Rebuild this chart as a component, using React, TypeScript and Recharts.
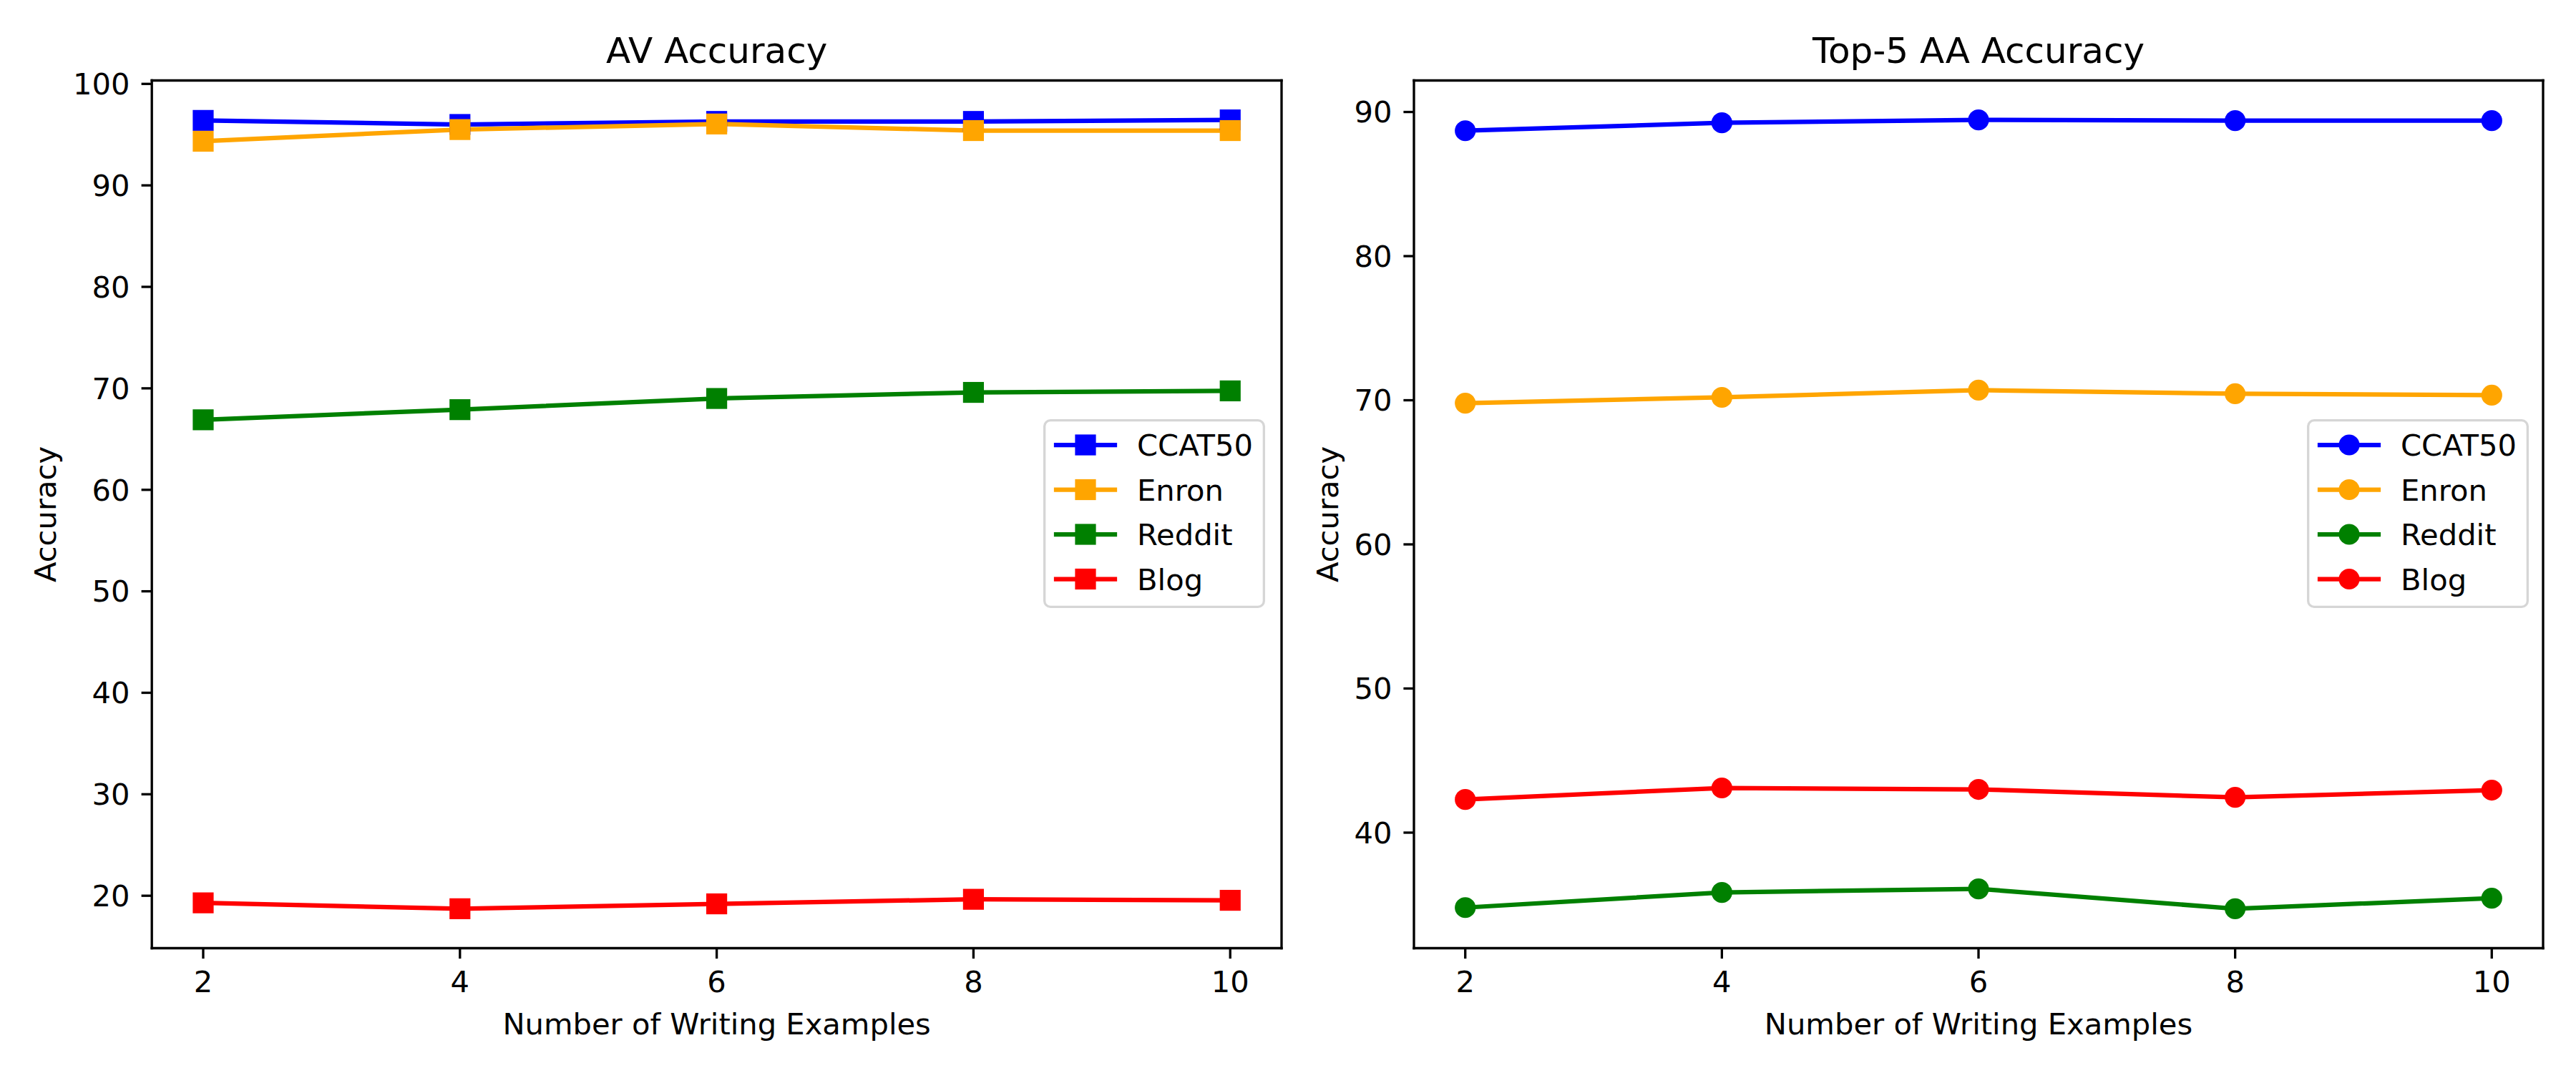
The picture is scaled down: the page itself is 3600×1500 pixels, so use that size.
import React from 'react';
import { LineChart, Line, XAxis, YAxis, Legend, Label } from 'recharts';

const xValues = [2, 4, 6, 8, 10];
const seriesNames = ['CCAT50', 'Enron', 'Reddit', 'Blog'];
const seriesColors = ['#0000ff', '#ffa500', '#008000', '#ff0000'];

const avCcat50 = [96.4, 96.0, 96.3, 96.3, 96.45];
const avEnron = [94.35, 95.5, 96.05, 95.4, 95.4];
const avReddit = [66.9, 67.9, 69.0, 69.6, 69.75];
const avBlog = [19.3, 18.72, 19.2, 19.65, 19.55];

const aaCcat50 = [88.7, 89.25, 89.45, 89.4, 89.4];
const aaEnron = [69.8, 70.2, 70.7, 70.45, 70.35];
const aaReddit = [34.8, 35.85, 36.1, 34.72, 35.45];
const aaBlog = [42.3, 43.1, 43.0, 42.45, 42.95];

const xTicks = [2, 4, 6, 8, 10];
const avYTicks = [20, 30, 40, 50, 60, 70, 80, 90, 100];
const aaYTicks = [40, 50, 60, 70, 80, 90];

const FONT = "'DejaVu Sans', sans-serif";
const FS = 41.67;
const LW = 3.33;
const LINE_W = 6.25;
const MK = 14.6;

function buildRows(series: number[][]) {
  return xValues.map((x, i) => {
    const row: Record<string, number> = { x };
    seriesNames.forEach((n, s) => {
      row[n] = series[s][i];
    });
    return row;
  });
}

function mplDomain(series: number[][]): [number, number] {
  const all = series.flat();
  const lo = Math.min(...all);
  const hi = Math.max(...all);
  const pad = (hi - lo) * 0.05;
  return [lo - pad, hi + pad];
}

const xDomain: [number, number] = [xValues[0] - 0.05 * (xValues[4] - xValues[0]), xValues[4] + 0.05 * (xValues[4] - xValues[0])];

function drawMarker(kind: string, color: string, cx: number, cy: number, key?: string | number) {
  if (kind === 'square') {
    return <rect key={key} x={cx - MK} y={cy - MK} width={MK * 2} height={MK * 2} fill={color} />;
  }
  return <circle key={key} cx={cx} cy={cy} r={MK} fill={color} />;
}

function makeDot(kind: string, color: string) {
  return (props: any) => {
    const { cx, cy, index } = props;
    if (cx == null || cy == null) return <g key={`e${index}`} />;
    return drawMarker(kind, color, cx, cy, `d${index}`);
  };
}

function LegendBox({ marker }: { marker: string }) {
  return (
    <svg width={310} height={264} style={{ display: 'block', overflow: 'visible' }}>
      <rect x={1.67} y={1.67} width={306.7} height={260.7} rx={8.3} ry={8.3} fill="rgba(255,255,255,0.8)" stroke="#d6d6d6" strokeWidth={LW} />
      {seriesNames.map((n, i) => {
        const cy = 36 + i * 62.5;
        const c = seriesColors[i];
        return (
          <g key={n}>
            <line x1={18} x2={100} y1={cy} y2={cy} stroke={c} strokeWidth={LINE_W} strokeLinecap="square" />
            {drawMarker(marker, c, 59, cy)}
            <text x={131} y={cy + 15.2} fontSize={FS} fontFamily={FONT} fill="#000">{n}</text>
          </g>
        );
      })}
    </svg>
  );
}

type PanelProps = {
  title: string;
  series: number[][];
  yTicks: number[];
  marker: string;
  leftWidth: number;
  rightWidth: number;
  legendLeft: number;
  ylabelOffset: number;
};

function Panel(p: PanelProps) {
  const data = buildRows(p.series);
  const yDomain = mplDomain(p.series);
  const axisStroke = { stroke: '#000', strokeWidth: LW, strokeLinecap: 'square' as const };
  return (
    <LineChart width={1800} height={1500} data={data} margin={{ top: 0, right: 0, bottom: 0, left: 0 }} style={{ fontFamily: FONT }}>
      <XAxis
        xAxisId="top"
        orientation="top"
        dataKey="x"
        type="number"
        domain={xDomain}
        allowDataOverflow
        height={112.5}
        tick={false}
        tickLine={false}
        axisLine={axisStroke}
      >
        <Label value={p.title} position="insideBottom" offset={25} style={{ fontSize: 50, fontFamily: FONT, fill: '#000' }} />
      </XAxis>
      <XAxis
        dataKey="x"
        type="number"
        domain={xDomain}
        allowDataOverflow
        ticks={xTicks}
        interval={0}
        height={174.5}
        tickSize={14.6}
        tickMargin={17}
        tickLine={{ stroke: '#000', strokeWidth: LW }}
        axisLine={axisStroke}
        tick={{ fill: '#000', fontSize: FS, fontFamily: FONT }}
      >
        <Label value="Number of Writing Examples" position="insideBottom" offset={54} style={{ fontSize: FS, fontFamily: FONT, fill: '#000' }} />
      </XAxis>
      <YAxis
        type="number"
        domain={yDomain}
        allowDataOverflow
        ticks={p.yTicks}
        interval={0}
        width={p.leftWidth}
        tickSize={14.6}
        tickMargin={16}
        tickLine={{ stroke: '#000', strokeWidth: LW }}
        axisLine={axisStroke}
        tick={{ fill: '#000', fontSize: FS, fontFamily: FONT }}
      >
        <Label value="Accuracy" angle={-90} position="insideLeft" offset={p.ylabelOffset} style={{ fontSize: FS, fontFamily: FONT, fill: '#000', textAnchor: 'middle' }} />
      </YAxis>
      <YAxis
        yAxisId="right"
        orientation="right"
        type="number"
        domain={yDomain}
        allowDataOverflow
        width={p.rightWidth}
        tick={false}
        tickLine={false}
        axisLine={axisStroke}
      />
      {seriesNames.map((n, i) => (
        <Line
          key={n}
          dataKey={n}
          name={n}
          type="linear"
          stroke={seriesColors[i]}
          strokeWidth={LINE_W}
          dot={makeDot(p.marker, seriesColors[i])}
          activeDot={false}
          isAnimationActive={false}
        />
      ))}
      <Legend
        layout="vertical"
        align="center"
        verticalAlign="middle"
        wrapperStyle={{ left: p.legendLeft, top: 586, width: 310, height: 264 }}
        content={() => <LegendBox marker={p.marker} />}
      />
    </LineChart>
  );
}

export default function App() {
  return (
    <div style={{ position: 'absolute', left: 0, top: 0, width: 3600, height: 1500, background: '#fff', display: 'flex', fontFamily: FONT }}>
      <Panel
        title="AV Accuracy"
        series={[avCcat50, avEnron, avReddit, avBlog]}
        yTicks={avYTicks}
        marker="square"
        leftWidth={212.2}
        rightWidth={9}
        legendLeft={1458}
        ylabelOffset={63}
      />
      <Panel
        title="Top-5 AA Accuracy"
        series={[aaCcat50, aaEnron, aaReddit, aaBlog]}
        yTicks={aaYTicks}
        marker="circle"
        leftWidth={176}
        rightWidth={46}
        legendLeft={1423.6}
        ylabelOffset={55}
      />
    </div>
  );
}
